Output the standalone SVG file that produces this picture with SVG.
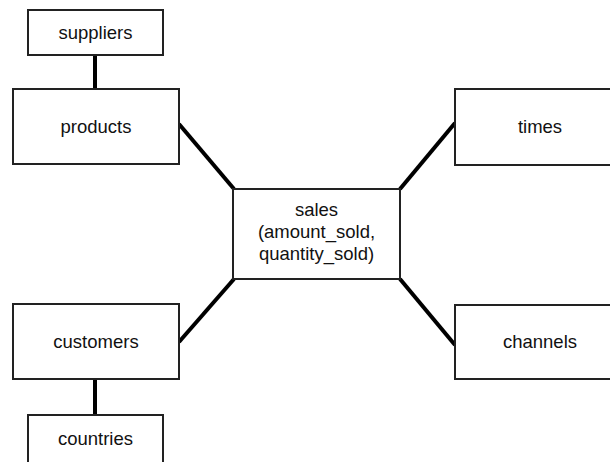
<svg xmlns="http://www.w3.org/2000/svg" width="610" height="462" viewBox="0 0 610 462">
<style>
.box{fill:#fff;stroke:#222;stroke-width:2}
.lbl{font-family:"Liberation Sans",Arial,sans-serif;font-size:18.5px;fill:#111;text-anchor:middle}
.conn line{stroke:#000;stroke-width:4;stroke-linecap:butt}
</style>
<rect width="610" height="462" fill="#fff"/>
<g class="conn" id="connectors">
<line x1="95" y1="55" x2="95" y2="89"/>
<line x1="95" y1="379" x2="95" y2="415"/>
<line x1="179" y1="124" x2="234" y2="189"/>
<line x1="179" y1="342" x2="234" y2="279"/>
<line x1="400" y1="189" x2="455" y2="123"/>
<line x1="400" y1="279" x2="455" y2="345"/>
</g>
<g id="suppliers"><rect class="box" x="28" y="10" width="135" height="45"/><text class="lbl" x="95.5" y="39">suppliers</text></g>
<g id="products"><rect class="box" x="13" y="89" width="166" height="75"/><text class="lbl" x="96" y="133">products</text></g>
<g id="customers"><rect class="box" x="13" y="304" width="166" height="75"/><text class="lbl" x="96" y="348">customers</text></g>
<g id="countries"><rect class="box" x="28" y="415" width="135" height="52"/><text class="lbl" x="95.5" y="445">countries</text></g>
<g id="sales"><rect class="box" x="233" y="189" width="167" height="90"/>
<text class="lbl" x="316.5" y="216">sales</text>
<text class="lbl" x="316.5" y="238">(amount_sold,</text>
<text class="lbl" x="316.5" y="260">quantity_sold)</text></g>
<g id="times"><rect class="box" x="455" y="89" width="170" height="76"/><text class="lbl" x="540" y="133">times</text></g>
<g id="channels"><rect class="box" x="455" y="305" width="170" height="74"/><text class="lbl" x="540" y="348">channels</text></g>
</svg>
